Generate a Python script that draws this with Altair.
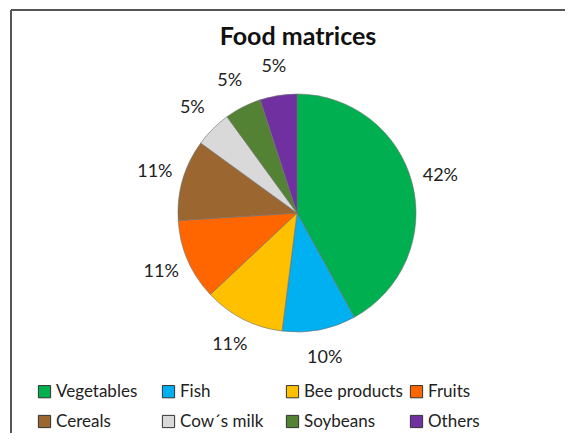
import altair as alt
import pandas as pd

categories = ["Vegetables", "Fish", "Bee products", "Fruits", "Cereals", "Cow´s milk", "Soybeans", "Others"]
values = [42, 10, 11, 11, 11, 5, 5, 5]
labels = ["42%", "10%", "11%", "11%", "11%", "5%", "5%", "5%"]
colors = ["#00B050", "#00B0F0", "#FFC000", "#FF6600", "#9C6630", "#D9D9D9", "#548235", "#7030A0"]

df = pd.DataFrame({
    "category": categories,
    "value": values,
    "label": labels,
    "order": list(range(len(categories))),
})

FONT = "Lato"
W, H = 554, 423
CX, CY = 286, 203

base = alt.Chart(df).encode(
    theta=alt.Theta("value:Q", stack=True),
    order=alt.Order("order:Q"),
)

arc = base.mark_arc(outerRadius=119, stroke="#707070", strokeWidth=0.6).encode(
    x=alt.value(CX),
    y=alt.value(CY),
    color=alt.Color(
        "category:N",
        scale=alt.Scale(domain=categories, range=colors),
        sort=categories,
        legend=alt.Legend(
            orient="none", legendX=25, legendY=373, columns=4, direction="horizontal",
            title=None, symbolType="square", symbolSize=150, symbolStrokeColor="#333333",
            symbolStrokeWidth=1, labelFontSize=17, labelFont=FONT, labelColor="#222222",
            gridAlign="all", columnPadding=5, rowPadding=12, labelLimit=0, labelOffset=3,
            padding=0,
        ),
    ),
)

text = base.mark_text(radius=148, fontSize=18, font=FONT, color="#222222").encode(
    x=alt.value(CX),
    y=alt.value(CY),
    text="label:N",
)

frame_df = pd.DataFrame({"k": [0]})
top_rule = alt.Chart(frame_df).mark_rule(color="#555555", strokeWidth=2).encode(
    x=alt.value(0), x2=alt.value(W), y=alt.value(0)
)
left_rule = alt.Chart(frame_df).mark_rule(color="#555555", strokeWidth=2).encode(
    x=alt.value(0), y=alt.value(0), y2=alt.value(H)
)

chart = (arc + text + top_rule + left_rule).properties(
    width=W,
    height=H,
    padding={"left": 3, "top": 2, "right": 0, "bottom": 0},
    autosize=alt.AutoSizeParams(type="none"),
    background="white",
    title=alt.Title("Food matrices", fontSize=25, font=FONT, fontWeight="bold",
                    anchor="middle", offset=-41, dx=10, color="#111111"),
).configure_view(stroke=None)

chart.save("out.html", embed_options={"renderer": "svg", "actions": False})
